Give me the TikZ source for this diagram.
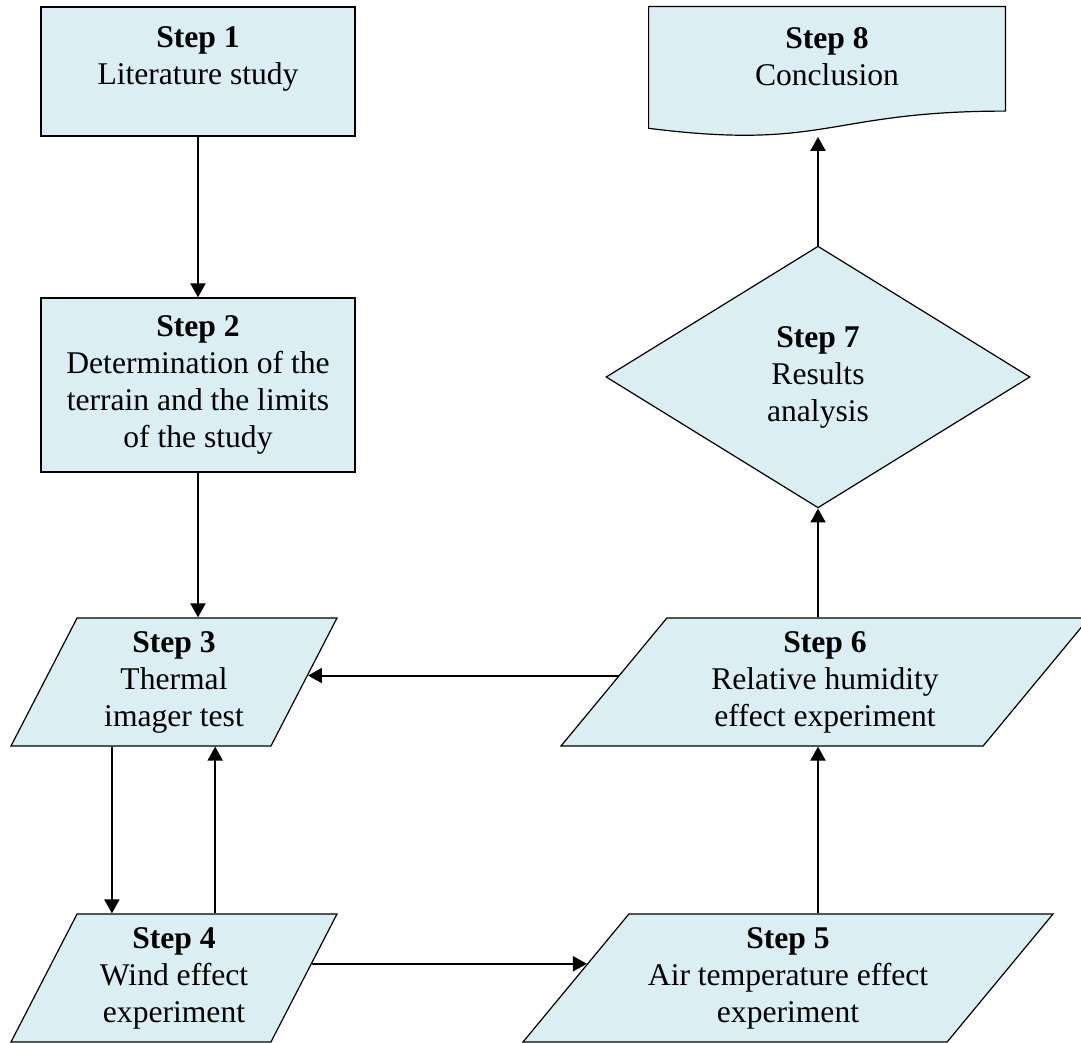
\documentclass[tikz,border=0pt]{standalone}
\usepackage{fontspec}
\setmainfont{Liberation Serif}
\usepackage{tikz}
\usetikzlibrary{calc,shapes.geometric,arrows.meta,backgrounds}
\definecolor{stepfill}{HTML}{DAEEF3}
\tikzstyle{stepbox}=[rectangle,draw=black,fill=stepfill,line width=0.6pt,
                      font=\fontsize{15.8}{18.5}\selectfont,inner sep=0pt]
\tikzstyle{docbox}=[rectangle,draw=none,
                      font=\fontsize{15.8}{18.5}\selectfont,inner sep=0pt]
\tikzstyle{databox}=[trapezium,trapezium stretches body,draw=black,fill=stepfill,
                      line width=0.6pt,font=\fontsize{15.8}{18.5}\selectfont,
                      inner sep=0pt]
\tikzstyle{decisionbox}=[diamond,draw=black,fill=stepfill,line width=0.6pt,
                      font=\fontsize{15.8}{18.5}\selectfont,inner sep=0pt]
\tikzstyle{flow}=[line width=1pt,-{Triangle[length=7pt,width=7.5pt]}]
\newcommand\steplabel[3][150pt]{\parbox{#1}{\centering \textbf{#2} \\ #3 }}
\newcommand\toplabel[3][150pt]{\parbox[c][44.5pt][t]{#1}{\centering \textbf{#2} \\ #3 }}
\newcommand\slantlabel[3][80pt]{\parbox[c][64pt][c]{#1}{\centering \textbf{#2} \\ #3 }}

\begin{document}
\begin{tikzpicture}[x=0.5pt,y=-0.5pt]
	\useasboundingbox (0,0) rectangle (1081,1043);

	% left column
	\node [stepbox,minimum width=157pt,minimum height=64.5pt] (s1) at (198,71.5) {
		\toplabel{Step 1}{Literature study}
	};
	\node [stepbox,minimum width=157pt,minimum height=87pt] (s2) at (198,385) {
		\steplabel{Step 2}{Determination of the\\terrain and the limits\\of the study}
	};
	\node [databox,trapezium left angle=62.7,trapezium right angle=117.3,
	       minimum width=163pt] (s3) at (174,682) {
		\slantlabel{Step 3}{Thermal\\imager test}
	};
	\node [databox,trapezium left angle=62.7,trapezium right angle=117.3,
	       minimum width=163pt] (s4) at (174,978) {
		\slantlabel{Step 4}{Wind effect\\experiment}
	};

	% right column
	\node [databox,trapezium left angle=50.4,trapezium right angle=129.6,
	       minimum width=265pt] (s5) at (788,978) {
		\slantlabel[145pt]{Step 5}{Air temperature effect\\experiment}
	};
	\node [databox,trapezium left angle=50.4,trapezium right angle=129.6,
	       minimum width=264pt] (s6) at (825,682) {
		\slantlabel[145pt]{Step 6}{Relative humidity\\effect experiment}
	};
	\node [decisionbox,minimum width=212pt,minimum height=127pt] (s7) at (818,377) {
		\steplabel[80pt]{Step 7}{Results\\analysis}
	};
	\node [docbox,minimum width=178pt,minimum height=64.75pt] (s8) at (827,71.75) {
		\toplabel[170pt]{Step 8}{Conclusion}
	};
	\begin{pgfonlayer}{background}
		\draw [fill=stepfill,line width=0.6pt] (s8.north west) -- (s8.north east)
			-- ($(s8.north east)!0.802!(s8.south east)$)
			.. controls ($(s8.north)!0.802!(s8.south)$) and ($(s8.north)!1.1075!(s8.south)$)
			.. ($(s8.north west)!0.934!(s8.south west)$) -- cycle;
	\end{pgfonlayer}

	% connectors
	\draw [flow] (s1.south) -- (s2.north);
	\draw [flow] (s2.south) -- (s2.south |- s3.north);
	\draw [flow] ($(s3.bottom left corner)!0.39!(s3.bottom right corner)$) coordinate (d34)
		-- (d34 |- s4.north);
	\draw [flow] ($(s4.top left corner)!0.53!(s4.top right corner)$) coordinate (u43)
		-- (u43 |- s3.south);
	\draw [flow] ($(s4.top right corner)!0.39!(s4.bottom right corner)$)
		-- ($(s5.top left corner)!0.39!(s5.bottom left corner)$);
	\draw [flow] (s7 |- s5.north) -- (s7 |- s6.south);
	\draw [flow] (s7 |- s6.north) -- (s7.south);
	\draw [flow] (s7.north) -- (s7 |- s8.south);
	\draw [flow] ($(s6.top left corner)!0.45!(s6.bottom left corner)$)
		-- ($(s3.top right corner)!0.45!(s3.bottom right corner)$);
\end{tikzpicture}
\end{document}
